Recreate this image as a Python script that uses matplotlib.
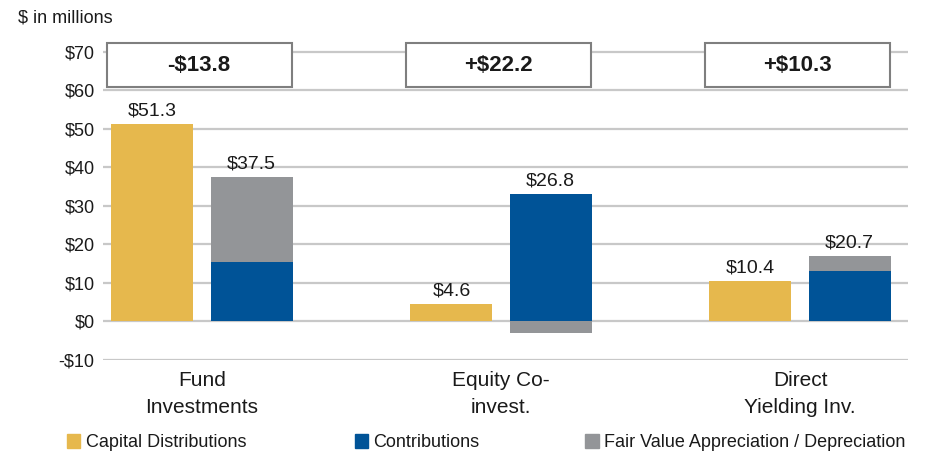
import matplotlib
matplotlib.use('Agg')
import matplotlib.pyplot as plt
from matplotlib.patches import Rectangle, Patch
import numpy as np

plt.rcParams['font.family'] = ['Liberation Sans', 'DejaVu Sans']

# data
categories = ['Fund\nInvestments', 'Equity Co-\ninvest.', 'Direct\nYielding Inv.']
distributions = [51.3, 4.6, 10.6]
contributions = [15.5, 33.2, 13.0]
fair_value = [22.0, -3.0, 4.1]
dist_labels = ['$51.3', '$4.6', '$10.4']
net_labels = ['$37.5', '$26.8', '$20.7']
box_labels = ['-$13.8', '+$22.2', '+$10.3']
yticks = [-10, 0, 10, 20, 30, 40, 50, 60, 70]
ytick_labels = ['-$10', '$0', '$10', '$20', '$30', '$40', '$50', '$60', '$70']
legend_names = ['Capital Distributions', 'Contributions', 'Fair Value Appreciation / Depreciation']

c_dist = '#E6B84D'
c_contr = '#005397'
c_fv = '#939598'
txt = '#1a1a1a'

fig = plt.figure(figsize=(9.26, 4.57), dpi=100)
ax = fig.add_axes([0.1112, 0.2123, 0.8694, 0.7035])

x = np.arange(len(categories))
w = 0.274
off = 0.166

ax.bar(x - off, distributions, w, color=c_dist, zorder=3)
ax.bar(x + off, contributions, w, color=c_contr, zorder=3)
# fair value stacks on top of contributions when positive, below zero when negative
fv_bottom = [c if f >= 0 else 0 for c, f in zip(contributions, fair_value)]
ax.bar(x + off, fair_value, w, bottom=fv_bottom, color=c_fv, zorder=3)

for i in range(len(categories)):
    ax.annotate(dist_labels[i], (x[i] - off, distributions[i]), xytext=(0, 3),
                textcoords='offset points', ha='center', va='bottom', fontsize=14, color=txt)
    top = contributions[i] + max(fair_value[i], 0)
    ax.annotate(net_labels[i], (x[i] + off, top), xytext=(0, 3),
                textcoords='offset points', ha='center', va='bottom', fontsize=14, color=txt)
    ax.add_patch(Rectangle((x[i] - 0.318, 60.9), 0.619, 11.4, facecolor='white',
                           edgecolor='#7f7f7f', linewidth=1.5, zorder=4))
    ax.text(x[i] - 0.01, 66.6, box_labels[i], ha='center', va='center', fontsize=16,
            fontweight='bold', color=txt, zorder=5)

ax.set_xlim(-0.331, 2.361)
ax.set_ylim(-10, 73.5)
ax.set_yticks(yticks)
ax.set_yticklabels(ytick_labels, fontsize=13, color=txt)
ax.set_xticks(x)
ax.set_xticklabels(categories, fontsize=15, color=txt, linespacing=1.55)
ax.tick_params(length=0, axis='y', pad=6)
ax.tick_params(length=0, axis='x', pad=8)
ax.grid(axis='y', color='#c8c8c8', linewidth=1.6, zorder=0)
for s in ax.spines.values():
    s.set_visible(False)

fig.text(0.019, 0.96, '$ in millions', fontsize=13, color=txt, va='center')

# legend entries placed one by one along the bottom
colors = [c_dist, c_contr, c_fv]
lx = [0.072, 0.383, 0.632]
for name, col, xx in zip(legend_names, colors, lx):
    fig.legend([Patch(color=col)], [name], loc='center left', bbox_to_anchor=(xx, 0.031),
               frameon=False, fontsize=13, handlelength=0.75, handleheight=0.75,
               handletextpad=0.3, labelcolor=txt, borderaxespad=0, borderpad=0)

fig.savefig('out.png', dpi=100)
